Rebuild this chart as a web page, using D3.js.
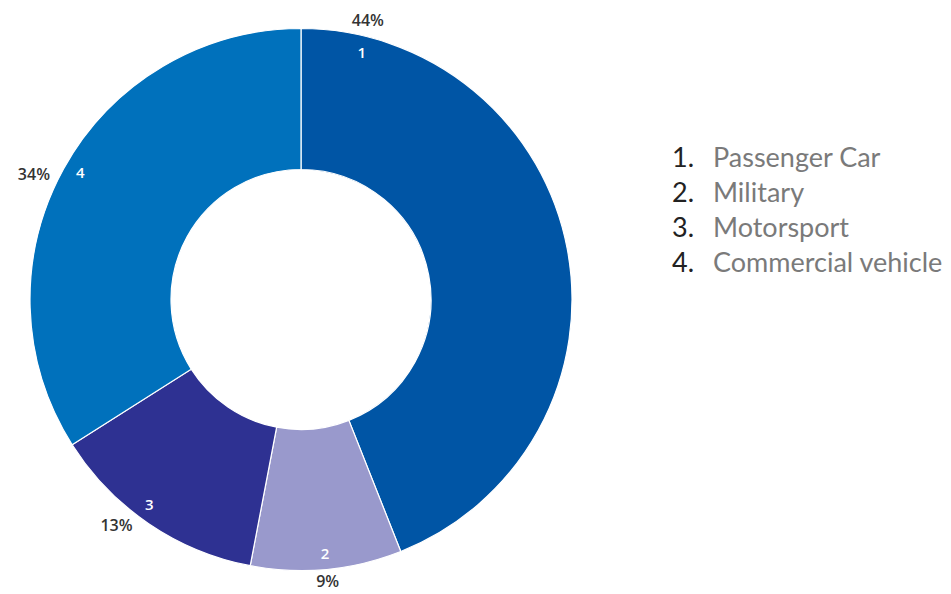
<!DOCTYPE html>
<html>
<head>
<meta charset="utf-8">
<script src="https://cdn.jsdelivr.net/npm/d3@7"></script>
<style>
  body { margin: 0; background: #fff; }
  svg { display: block; }
  .pct { font-family: 'Open Sans', sans-serif; font-weight: 600; font-size: 16px; fill: #333; }
  .num { font-family: 'Open Sans', sans-serif; font-weight: 600; font-size: 15px; fill: #fff; }
  .legend text { font-family: Lato, sans-serif; font-size: 27px; }
</style>
</head>
<body>
<svg id="chart" width="951" height="594"></svg>
<script>
// data
const categories = ['Passenger Car', 'Military', 'Motorsport', 'Commercial vehicle'];
const shares = [44, 9, 13, 34];
const colors = ['#0055a5', '#9999cc', '#2e3192', '#0071bc'];
// where along each slice the labels sit (0 = start, 1 = end)
const numFrac = [0.087, 0.5, 0.55, 0.51];
const pctFrac = [0.085, 0.5, 0.61, 0.47];

// svg config
const width = 951, height = 594;
const cx = 301, cy = 299.5;
const outerR = 271, innerR = 130;
const numR = 255, pctR = 287;

const svg = d3.select('#chart');
const g = svg.append('g').attr('transform', `translate(${cx},${cy})`);

const pie = d3.pie().sort(null).value(d => d);
const arcs = pie(shares);
const arc = d3.arc().innerRadius(innerR).outerRadius(outerR);

g.selectAll('path.slice')
  .data(arcs)
  .enter()
  .append('path')
  .attr('class', 'slice')
  .attr('d', arc)
  .attr('fill', (d, i) => colors[i])
  .attr('stroke', '#fff')
  .attr('stroke-width', 1.2);

const angleAt = (d, f) => d.startAngle + (d.endAngle - d.startAngle) * f;
const polar = (a, r) => [r * Math.sin(a), -r * Math.cos(a)];
// outer labels on the left sit a bit further out, bottom one a bit in (page edge)
const pctRadius = i => pctR + [0, -4, 4, 8][i];

// slice numbers
g.selectAll('text.num')
  .data(arcs)
  .enter()
  .append('text')
  .attr('class', 'num')
  .attr('x', (d, i) => polar(angleAt(d, numFrac[i]), numR)[0])
  .attr('y', (d, i) => polar(angleAt(d, numFrac[i]), numR)[1])
  .attr('text-anchor', 'middle')
  .attr('dominant-baseline', 'central')
  .text((d, i) => i + 1);

// percentages outside
g.selectAll('text.pct')
  .data(arcs)
  .enter()
  .append('text')
  .attr('class', 'pct')
  .attr('x', (d, i) => polar(angleAt(d, pctFrac[i]), pctRadius(i))[0])
  .attr('y', (d, i) => polar(angleAt(d, pctFrac[i]), pctRadius(i))[1])
  .attr('text-anchor', 'middle')
  .attr('dominant-baseline', 'central')
  .text(d => d.data + '%');

// legend
const legendY = d3.scalePoint()
  .domain(categories)
  .range([156, 261]);

const legend = svg.append('g').attr('class', 'legend');
const rows = legend.selectAll('g')
  .data(categories)
  .enter()
  .append('g')
  .attr('transform', d => `translate(0,${legendY(d)})`);

rows.append('text')
  .attr('x', 672)
  .attr('dominant-baseline', 'central')
  .attr('fill', '#222')
  .text((d, i) => (i + 1) + '.');

rows.append('text')
  .attr('x', 713)
  .attr('dominant-baseline', 'central')
  .attr('fill', '#7a7a7a')
  .text(d => d);
</script>
</body>
</html>
